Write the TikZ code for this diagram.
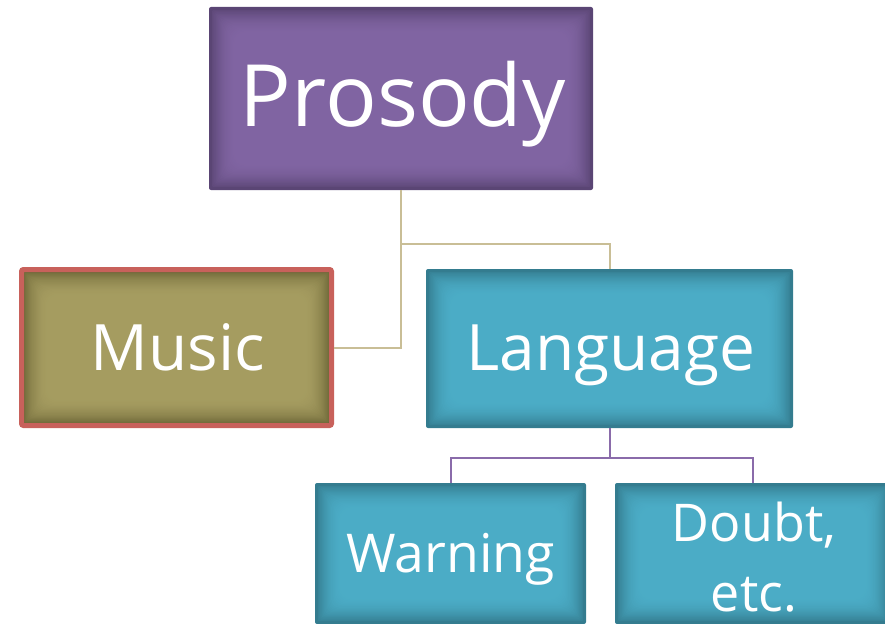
\documentclass[tikz,border=0pt]{standalone}
\usepackage{fontspec}
\setmainfont{Open Sans}
\definecolor{pcen}{HTML}{8064A2}
\definecolor{pedge}{HTML}{5A4574}
\definecolor{mcen}{HTML}{A59C60}
\definecolor{medge}{HTML}{6F6838}
\definecolor{mborder}{HTML}{C8615B}
\definecolor{lcen}{HTML}{4BACC6}
\definecolor{ledge}{HTML}{347C8F}
\definecolor{tanline}{HTML}{C9BE96}
\definecolor{purpline}{HTML}{8A6BAA}
\tikzset{
  glowbox/.style 2 args={rectangle, rounded corners=2pt, inner sep=0pt, fill=#1,
    path picture={
      \foreach \i in {0,...,22}{
        \pgfmathsetmacro\pct{int(max(0,85*(1-\i/22)*(1-\i/22)))}
        \pgfmathsetmacro\dd{3+\i*1.1}
        \pgfmathsetmacro\rr{1+\i*0.6}
        \fill[#1!\pct!#2, rounded corners=\rr pt]
          ([xshift=\dd pt, yshift=-\dd pt]path picture bounding box.north west)
          rectangle ([xshift=-\dd pt, yshift=\dd pt]path picture bounding box.south east);
      }
    }},
  txt/.style={text=white, inner sep=0pt},
  tanconn/.style={draw=tanline, line width=2pt},
  purpconn/.style={draw=purpline, line width=2pt}
}
\begin{document}
\begin{tikzpicture}[x=1pt,y=-1pt]
\useasboundingbox (0,0) rectangle (885,623);
\clip (0,0) rectangle (885,623);
\node[glowbox={pedge}{pcen}, minimum width=384pt, minimum height=183pt] (pros) at (401,98.5) {};
\node[glowbox={medge}{mcen}, draw=mborder, line width=5pt, minimum width=310pt, minimum height=156pt] (music) at (176.5,347.5) {};
\node[glowbox={ledge}{lcen}, minimum width=367pt, minimum height=159pt] (lang) at (609.5,348.5) {};
\node[glowbox={ledge}{lcen}, minimum width=271pt, minimum height=141pt] (warn) at (450.5,553.5) {};
\node[glowbox={ledge}{lcen}, minimum width=276pt, minimum height=141pt] (doubt) at (753,553.5) {};
\coordinate (j1) at (401,244);
\coordinate (j2) at (610,458);
\draw[tanconn] (pros.south) -- (j1) -| (lang.north);
\draw[tanconn] (j1) |- (music.east);
\draw[purpconn] (lang.south) -- (lang.south |- j2);
\draw[purpconn] (warn.north) |- (lang.south |- j2) -| (doubt.north);
% texts
\node[txt, font=\fontsize{86}{100}\selectfont, anchor=base] (tpros) at (403,127) {Prosody};
\node[txt, font=\fontsize{64}{80}\selectfont, anchor=base] (tmusic) at (178,370) {Music};
\node[txt, font=\fontsize{64}{80}\selectfont, anchor=base] (tlang) at (611,370) {Language};
\node[txt, font=\fontsize{53.5}{70}\selectfont, anchor=base] (twarn) at (450.5,572) {Warning};
\node[txt, font=\fontsize{52}{70}\selectfont, align=center] (tdoubt) at (754,557) {Doubt,\\etc.};
\end{tikzpicture}
\end{document}
